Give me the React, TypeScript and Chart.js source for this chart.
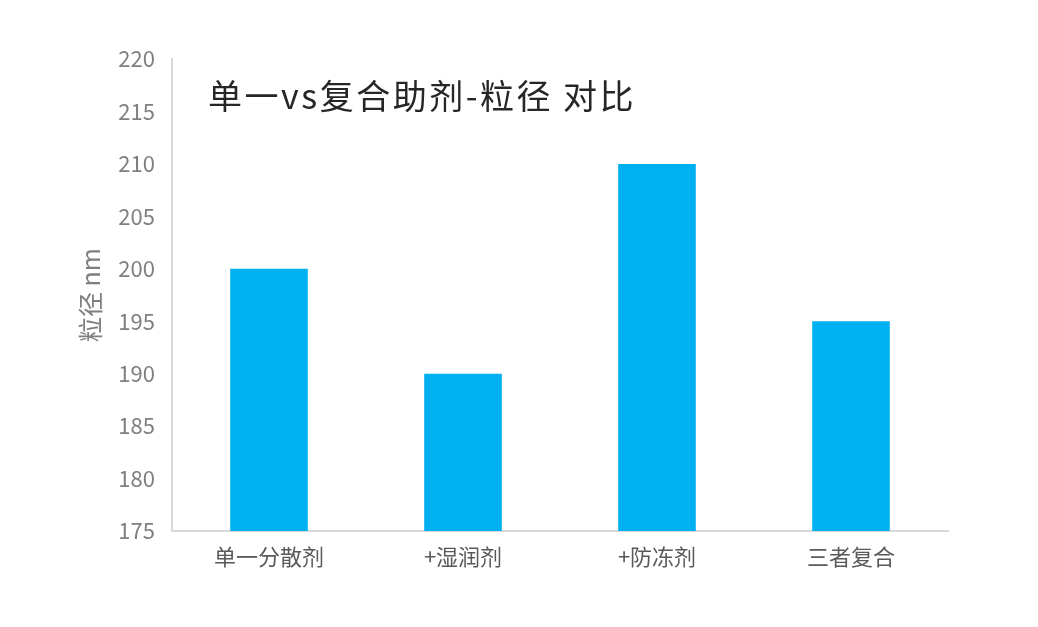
import { useEffect, useRef } from "react";
import { Chart, registerables, type Plugin } from "chart.js";

Chart.register(...registerables);

const categories = ["单一分散剂", "+湿润剂", "+防冻剂", "三者复合"];
const sizes = [200, 190, 210, 195];
const chartTitle = "单一vs复合助剂-粒径 对比";
const yAxisTitle = "粒径 nm";

const FONT = "'Noto Sans CJK SC', 'Noto Sans', sans-serif";

// title sits inside the plot area, top-left
const innerTitle: Plugin<"bar"> = {
  id: "innerTitle",
  afterDraw(chart) {
    const { ctx, chartArea } = chart;
    ctx.save();
    ctx.font = `34px ${FONT}`;
    (ctx as any).letterSpacing = "2.5px";
    ctx.fillStyle = "#262626";
    ctx.textAlign = "left";
    ctx.textBaseline = "middle";
    ctx.fillText(chartTitle, chartArea.left + 36, chartArea.top + 37);
    ctx.restore();
  },
};

export default function App() {
  const ref = useRef<HTMLCanvasElement>(null);

  useEffect(() => {
    document.body.style.margin = "0";
    if (!ref.current) return;
    const chart = new Chart(ref.current, {
      type: "bar",
      data: {
        labels: categories,
        datasets: [
          {
            data: sizes,
            backgroundColor: "#00B0F0",
            barPercentage: 0.4,
            categoryPercentage: 1,
          },
        ],
      },
      options: {
        responsive: false,
        animation: false,
        layout: { padding: { left: 75, right: 90, top: 59, bottom: 0 } },
        plugins: { legend: { display: false }, tooltip: { enabled: false } },
        scales: {
          x: {
            grid: { display: false, drawTicks: false },
            border: { color: "#D9D9D9", width: 2 },
            ticks: { color: "#595959", font: { family: FONT, size: 22 }, padding: 12 },
            afterFit: (s) => {
              s.height = 96;
            },
          },
          y: {
            min: 175,
            max: 220,
            grid: { display: false, drawTicks: false },
            border: { color: "#D9D9D9", width: 2 },
            ticks: {
              stepSize: 5,
              color: "#7F7F7F",
              font: { family: FONT, size: 22 },
              padding: 17,
            },
            title: {
              display: true,
              text: yAxisTitle,
              color: "#7F7F7F",
              font: { family: FONT, size: 25 },
              padding: 0,
            },
            afterFit: (s) => {
              s.width = 172 - 75;
            },
          },
        },
      },
      plugins: [innerTitle],
    });
    return () => chart.destroy();
  }, []);

  return (
    <div style={{ width: 1038, height: 627, background: "#fff" }}>
      <canvas ref={ref} width={1038} height={627} />
    </div>
  );
}
